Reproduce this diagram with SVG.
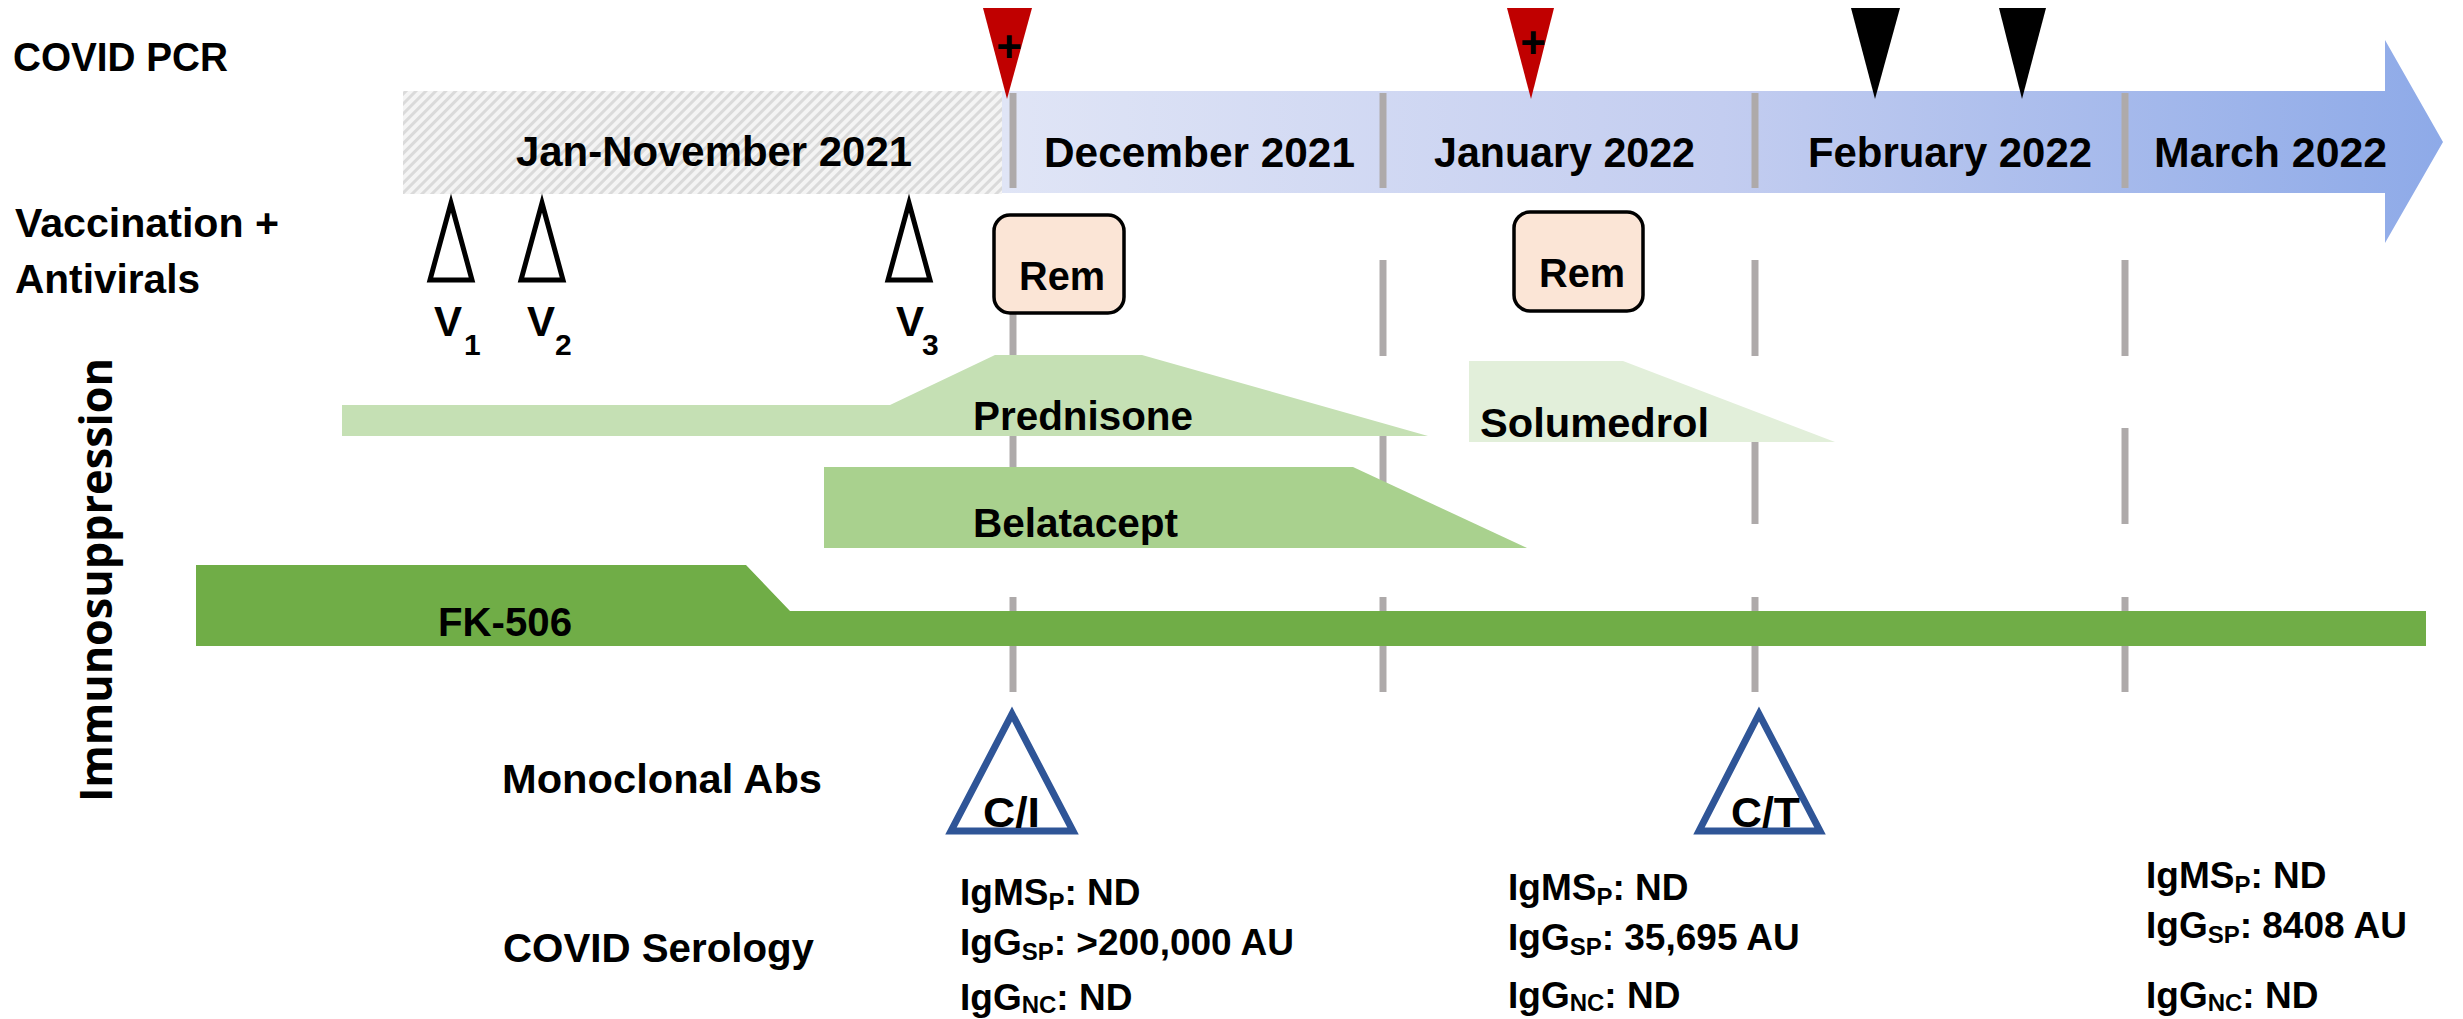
<svg xmlns="http://www.w3.org/2000/svg" width="2463" height="1019" viewBox="0 0 2463 1019">
<defs>
<linearGradient id="timeGrad" gradientUnits="userSpaceOnUse" x1="1002" y1="0" x2="2443" y2="0">
<stop offset="0" stop-color="#e0e5f6"/>
<stop offset="0.5" stop-color="#c3cdf0"/>
<stop offset="1" stop-color="#8eaae8"/>
</linearGradient>
<pattern id="hatch" width="7" height="7" patternUnits="userSpaceOnUse" patternTransform="rotate(45)">
<rect width="7" height="7" fill="#f4f4f4"/>
<rect width="3" height="7" fill="#dadada"/>
</pattern>
<style>
text{font-family:"Liberation Sans",Arial,sans-serif;font-weight:bold;fill:#000}
.lbl{font-size:40px}
.month{font-size:42px}
.sero{font-size:37px}
.sub{font-size:24px}
.vlab{font-size:42px}
.vsub{font-size:30px}
.grid{stroke:#aeaaaa;stroke-width:7;fill:none}
.pcrRed{fill:#c00000}
.pcrBlk{fill:#000}
.vacc{fill:#fff;stroke:#000;stroke-width:5;stroke-linejoin:miter}
.mab{fill:#fff;stroke:#2f5597;stroke-width:7;stroke-linejoin:miter}
.rem{fill:#fbe5d6;stroke:#000;stroke-width:3.5}
</style>
</defs>

<g id="timeline">
<path d="M1002,91 H2385 V40 L2443,142 L2385,243 V193 H1002 Z" fill="url(#timeGrad)"/>
<rect x="403" y="91" width="599" height="103" fill="url(#hatch)"/>
</g>

<g id="connectors">
<line class="grid" x1="1013" y1="93" x2="1013" y2="188"/>
<line class="grid" x1="1383" y1="93" x2="1383" y2="188"/>
<line class="grid" x1="1755" y1="93" x2="1755" y2="188"/>
<line class="grid" x1="2125" y1="93" x2="2125" y2="188"/>
<line class="grid" x1="1013" y1="260" x2="1013" y2="356"/>
<line class="grid" x1="1383" y1="260" x2="1383" y2="356"/>
<line class="grid" x1="1755" y1="260" x2="1755" y2="356"/>
<line class="grid" x1="2125" y1="260" x2="2125" y2="356"/>
<line class="grid" x1="1013" y1="434" x2="1013" y2="524"/>
<line class="grid" x1="1383" y1="434" x2="1383" y2="524"/>
<line class="grid" x1="1755" y1="442" x2="1755" y2="524"/>
<line class="grid" x1="2125" y1="428" x2="2125" y2="524"/>
<line class="grid" x1="1013" y1="597" x2="1013" y2="692"/>
<line class="grid" x1="1383" y1="597" x2="1383" y2="692"/>
<line class="grid" x1="1755" y1="597" x2="1755" y2="692"/>
<line class="grid" x1="2125" y1="597" x2="2125" y2="692"/>
</g>

<g id="month-labels">
<text class="month" x="516" y="166" textLength="396" lengthAdjust="spacingAndGlyphs">Jan-November 2021</text>
<text class="month" x="1044" y="167" textLength="311" lengthAdjust="spacingAndGlyphs">December 2021</text>
<text class="month" x="1434" y="167" textLength="261" lengthAdjust="spacingAndGlyphs">January 2022</text>
<text class="month" x="1808" y="167" textLength="284" lengthAdjust="spacingAndGlyphs">February 2022</text>
<text class="month" x="2154" y="167" textLength="233" lengthAdjust="spacingAndGlyphs">March 2022</text>
</g>

<g id="row-labels">
<text class="lbl" x="13" y="71" textLength="215" lengthAdjust="spacingAndGlyphs">COVID PCR</text>
<text class="lbl" x="15" y="237" textLength="264" lengthAdjust="spacingAndGlyphs">Vaccination +</text>
<text class="lbl" x="15" y="293" textLength="185" lengthAdjust="spacingAndGlyphs">Antivirals</text>
<text x="0" y="0" transform="translate(112,802) rotate(-90)" style="font-family:'Open Sans','Liberation Sans',sans-serif;font-size:45px;font-weight:bold" textLength="444" lengthAdjust="spacingAndGlyphs">Immunosuppression</text>
<text class="lbl" x="502" y="793" textLength="320" lengthAdjust="spacingAndGlyphs">Monoclonal Abs</text>
<text class="lbl" x="503" y="962" textLength="311" lengthAdjust="spacingAndGlyphs">COVID Serology</text>
</g>

<g id="pcr-1">
<polygon class="pcrRed" points="983,8 1032,8 1007,99"/>
<text x="1009" y="62" text-anchor="middle" style="font-size:44px">+</text>
</g>
<g id="pcr-2">
<polygon class="pcrRed" points="1507,8 1554,8 1531,99"/>
<text x="1533" y="58" text-anchor="middle" style="font-size:44px">+</text>
</g>
<g id="pcr-3"><polygon class="pcrBlk" points="1851,8 1900,8 1875,99"/></g>
<g id="pcr-4"><polygon class="pcrBlk" points="1999,8 2046,8 2022,99"/></g>

<g id="vacc-1">
<polygon class="vacc" points="451,203 472,280 430,280"/>
<text class="vlab" x="434" y="336">V<tspan class="vsub" x="464" dy="19">1</tspan></text>
</g>
<g id="vacc-2">
<polygon class="vacc" points="542,203 563,280 521,280"/>
<text class="vlab" x="527" y="336">V<tspan class="vsub" x="555" dy="19">2</tspan></text>
</g>
<g id="vacc-3">
<polygon class="vacc" points="909,203 930,280 888,280"/>
<text class="vlab" x="896" y="336">V<tspan class="vsub" x="922" dy="19">3</tspan></text>
</g>

<g id="rem-1">
<rect class="rem" x="994" y="215" width="130" height="98" rx="16"/>
<text class="lbl" x="1019" y="290" textLength="86" lengthAdjust="spacingAndGlyphs">Rem</text>
</g>
<g id="rem-2">
<rect class="rem" x="1514" y="212" width="129" height="99" rx="16"/>
<text class="lbl" x="1539" y="287" textLength="86" lengthAdjust="spacingAndGlyphs">Rem</text>
</g>

<g id="prednisone">
<polygon points="342,405 890,405 995,355 1142,355 1428,436 342,436" fill="#c5e0b4"/>
<text class="lbl" x="973" y="430" textLength="220" lengthAdjust="spacingAndGlyphs">Prednisone</text>
</g>
<g id="solumedrol">
<polygon points="1469,361 1623,361 1835,442 1469,442" fill="#e2efda"/>
<text class="lbl" x="1480" y="437" textLength="229" lengthAdjust="spacingAndGlyphs">Solumedrol</text>
</g>
<g id="belatacept">
<polygon points="824,467 1353,467 1527,548 824,548" fill="#a9d18e"/>
<text class="lbl" x="973" y="537" textLength="205" lengthAdjust="spacingAndGlyphs">Belatacept</text>
</g>
<g id="fk506">
<polygon points="196,565 746,565 790,611 2426,611 2426,646 196,646" fill="#70ad47"/>
<text class="lbl" x="438" y="636" textLength="134" lengthAdjust="spacingAndGlyphs">FK-506</text>
</g>

<g id="mab-1">
<polygon class="mab" points="1012,714 1073,831 951,831"/>
<text x="983" y="827" style="font-size:42px" textLength="57" lengthAdjust="spacingAndGlyphs">C/I</text>
</g>
<g id="mab-2">
<polygon class="mab" points="1759,714 1820,831 1699,831"/>
<text x="1731" y="827" style="font-size:42px" textLength="69" lengthAdjust="spacingAndGlyphs">C/T</text>
</g>

<g id="serology-1">
<text class="sero" x="960" y="905">IgMS<tspan class="sub" dy="5">P</tspan><tspan dy="-5">: ND</tspan></text>
<text class="sero" x="960" y="955">IgG<tspan class="sub" dy="5">SP</tspan><tspan dy="-5">: &gt;200,000 AU</tspan></text>
<text class="sero" x="960" y="1010">IgG<tspan class="sub" dy="3">NC</tspan><tspan dy="-3">: ND</tspan></text>
</g>
<g id="serology-2">
<text class="sero" x="1508" y="900">IgMS<tspan class="sub" dy="5">P</tspan><tspan dy="-5">: ND</tspan></text>
<text class="sero" x="1508" y="950">IgG<tspan class="sub" dy="5">SP</tspan><tspan dy="-5">: 35,695 AU</tspan></text>
<text class="sero" x="1508" y="1008">IgG<tspan class="sub" dy="3">NC</tspan><tspan dy="-3">: ND</tspan></text>
</g>
<g id="serology-3">
<text class="sero" x="2146" y="888">IgMS<tspan class="sub" dy="5">P</tspan><tspan dy="-5">: ND</tspan></text>
<text class="sero" x="2146" y="938">IgG<tspan class="sub" dy="5">SP</tspan><tspan dy="-5">: 8408 AU</tspan></text>
<text class="sero" x="2146" y="1008">IgG<tspan class="sub" dy="3">NC</tspan><tspan dy="-3">: ND</tspan></text>
</g>
</svg>
